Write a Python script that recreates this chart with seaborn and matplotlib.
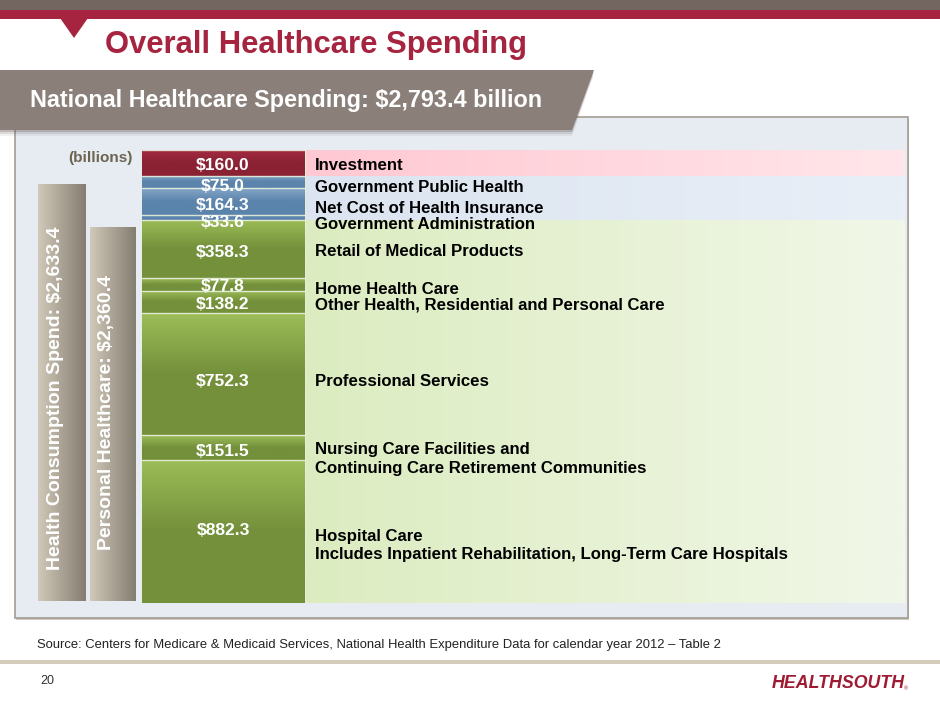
import numpy as np
import pandas as pd
import matplotlib
matplotlib.use("Agg")
import matplotlib.pyplot as plt
import matplotlib.transforms as mtransforms
from matplotlib.patches import Polygon, Rectangle
from matplotlib.colors import to_rgb
import seaborn as sns

# ---------------- data ----------------
segments = ["Hospital Care", "Nursing Care", "Professional Services",
            "Other Health", "Home Health Care", "Retail of Medical Products",
            "Government Administration", "Net Cost of Health Insurance",
            "Government Public Health", "Investment"]
values = [882.3, 151.5, 752.3, 138.2, 77.8, 358.3, 33.6, 164.3, 75.0, 160.0]
value_labels = ["$882.3", "$151.5", "$752.3", "$138.2", "$77.8", "$358.3",
                "$33.6", "$164.3", "$75.0", "$160.0"]
category_labels = [
    "Hospital Care\nIncludes Inpatient Rehabilitation, Long-Term Care Hospitals",
    "Nursing Care Facilities and\nContinuing Care Retirement Communities",
    "Professional Services",
    "Other Health, Residential and Personal Care",
    "Home Health Care",
    "Retail of Medical Products",
    "Government Administration",
    "Net Cost of Health Insurance",
    "Government Public Health",
    "Investment",
]
groups = ["personal"] * 6 + ["government"] * 3 + ["investment"]
national_total = 2793.4
consumption_total = 2633.4
personal_total = 2360.4
summary_names = ["Health Consumption Spend", "Personal Healthcare"]
summary_values = [consumption_total, personal_total]

# ---------------- styles ----------------
W, H = 940, 705
sns.set_theme(style="white")
plt.rcParams["font.family"] = ["Liberation Sans", "DejaVu Sans"]
plt.rcParams["text.parse_math"] = False

CRIMSON = "#A6243F"
seg_base = {"personal": "#74903B", "government": "#5B84AC", "investment": "#8A2234"}
seg_light = {"personal": "#9CBD58", "government": "#84A5C6", "investment": "#A32B41"}
band_left = {"personal": "#DCECC0", "government": "#DBE4F0", "investment": "#FFC8D2"}
band_right = {"personal": "#F1F7E8", "government": "#E9EFF7", "investment": "#FFE6EA"}

# value label / category label pixel nudges (positive = down)
val_dy = [-1, 4, 7, 2, 2, 3, 5, 4, 4, 3]
cat_dy = [14, 11, 7, 3, 5, 2, 7, 7, 5, 3]

fig = plt.figure(figsize=(W / 100, H / 100), dpi=100)
fig.patch.set_facecolor("white")

# background / decoration axes in pixel coordinates
bg = fig.add_axes([0, 0, 1, 1], zorder=0)
bg.set_xlim(0, W)
bg.set_ylim(H, 0)
bg.axis("off")

bg.add_patch(Rectangle((0, 0), W, 10, color="#736560", lw=0))
bg.add_patch(Rectangle((0, 10), W, 9, color=CRIMSON, lw=0))
bg.add_patch(Polygon([(60, 18), (88, 18), (74, 38)], closed=True, color=CRIMSON, lw=0))
bg.text(105, 45, "Overall Healthcare Spending", color=CRIMSON, fontsize=22.3,
        fontweight="bold", va="center", ha="left")

# panel
bg.add_patch(Rectangle((16, 119), 893, 501, color="#CFCAC3", lw=0))
bg.add_patch(Rectangle((15, 117), 893, 501, facecolor="#E7ECF3",
                       edgecolor="#A39C92", lw=1.2))

# banner with soft shadow underneath
for k, a in enumerate([0.25, 0.15, 0.08]):
    d = 2 + k * 2
    bg.add_patch(Polygon([(0, 70 + d), (594 - d * 0.1, 70 + d), (572, 130 + d), (0, 130 + d)],
                         closed=True, color="#5E5652", alpha=a, lw=0))
bg.add_patch(Polygon([(0, 70), (594, 70), (572, 130), (0, 130)], closed=True,
                     color="#8B7F7A", lw=0))
bg.text(30, 100, f"National Healthcare Spending: ${national_total:,.1f} billion",
        color="white", fontsize=16.8, fontweight="bold", va="center", ha="left")

bg.text(133, 158, "(billions)", color="#6B6450", fontsize=11, fontweight="bold",
        va="center", ha="right")

# footer
bg.text(37, 645, "Source: Centers for Medicare & Medicaid Services, National Health "
        "Expenditure Data for calendar year 2012 \u2013 Table 2",
        color="#222222", fontsize=9.4, va="center", ha="left")
bg.add_patch(Rectangle((0, 660), W, 4, color="#D4CCBB", lw=0))
bg.text(40, 681, "20", color="#333333", fontsize=9, va="center", ha="left")
bg.text(772, 683, "HEALTHSOUTH", color="#9E1B34", fontsize=12.8, fontweight="bold",
        style="italic", va="center", ha="left")
bg.text(904, 689, "\u00ae", color="#9E1B34", fontsize=4, va="center", ha="left")

# ---------------- main stacked bar ----------------
BAR_TOP, BAR_BOT = 150, 603
ax = fig.add_axes([0, (H - BAR_BOT) / H, 1, (BAR_BOT - BAR_TOP) / H], zorder=2)
ax.patch.set_alpha(0)

vals = np.array(values)
bottoms = np.concatenate([[0], np.cumsum(vals)[:-1]])
tops = bottoms + vals

def hgrad(c1, c2, n=64):
    a, b = np.array(to_rgb(c1)), np.array(to_rgb(c2))
    t = np.linspace(0, 1, n)[None, :, None]
    return a + (b - a) * t

# background bands per group
band_x0, band_x1 = 305, 905
for g in ["personal", "government", "investment"]:
    idx = [i for i, gg in enumerate(groups) if gg == g]
    y0 = bottoms[idx[0]]
    y1 = tops[idx[-1]] if g != "investment" else national_total
    ax.imshow(hgrad(band_left[g], band_right[g]), extent=(band_x0, band_x1, y0, y1),
              aspect="auto", origin="upper", zorder=0.5, interpolation="bilinear")

BAR_CX, BAR_W = 223, 163
for i, (seg, v, b) in enumerate(zip(segments, values, bottoms)):
    g = groups[i]
    df = pd.DataFrame({"x": [BAR_CX], "value": [v]})
    sns.barplot(data=df, x="x", y="value", native_scale=True, orient="x",
                width=BAR_W, bottom=b, color=seg_base[g], saturation=1,
                errorbar=None, edgecolor="#E4EDD3", linewidth=1.0, ax=ax, zorder=2)
    patch = ax.patches[-1]
    # vertical highlight gradient clipped to the bar
    n = 100
    t = np.linspace(0, 1, n)
    mix = np.clip(t / 0.5, 0, 1)[:, None, None]
    light = np.array(to_rgb(seg_light[g]))
    base = np.array(to_rgb(seg_base[g]))
    img = light + (base - light) * mix
    img = np.repeat(img, 2, axis=1)
    im = ax.imshow(img, extent=(BAR_CX - BAR_W / 2, BAR_CX + BAR_W / 2, b, b + v),
                   aspect="auto", origin="upper", zorder=2.1, interpolation="bilinear")
    im.set_clip_path(patch)
    # separators
    ax.plot([BAR_CX - BAR_W / 2, BAR_CX + BAR_W / 2], [b + v, b + v],
            color="#E9F0DC", lw=1.0, zorder=2.3, alpha=0.9)

for i in range(len(values)):
    cy = bottoms[i] + values[i] / 2
    tr_v = mtransforms.offset_copy(ax.transData, fig=fig, x=0, y=-val_dy[i], units="dots")
    ax.text(BAR_CX, cy, value_labels[i], transform=tr_v, color="white",
            fontsize=12.6, fontweight="bold", ha="center", va="center", zorder=3)
    tr_c = mtransforms.offset_copy(ax.transData, fig=fig, x=0, y=-cat_dy[i], units="dots")
    ax.text(315, cy, category_labels[i], transform=tr_c, color="black",
            fontsize=12.1, fontweight="bold", ha="left", va="center",
            linespacing=1.32, zorder=3)

ax.set_xlim(0, W)
ax.set_ylim(0, national_total)
ax.axis("off")

# ---------------- summary bars (gray) ----------------
G_BOT = 601
px_per_b = 0.1585
g_h = G_BOT - 140
ax2 = fig.add_axes([0, (H - G_BOT) / H, 1, g_h / H], zorder=1.5)
ax2.patch.set_alpha(0)
sum_cx = [62, 113]
sum_w = [48, 46]
for name, v, cx, w in zip(summary_names, summary_values, sum_cx, sum_w):
    df = pd.DataFrame({"x": [cx], "value": [v]})
    sns.barplot(data=df, x="x", y="value", native_scale=True, orient="x",
                width=w, color="#A9A292", saturation=1, errorbar=None,
                linewidth=0, ax=ax2, zorder=2)
    p = ax2.patches[-1]
    im = ax2.imshow(hgrad("#D0C9B9", "#847D71"), extent=(cx - w / 2, cx + w / 2, 0, v),
                    aspect="auto", origin="upper", zorder=2.1, interpolation="bilinear")
    im.set_clip_path(p)
ax2.set_xlim(0, W)
ax2.set_ylim(0, g_h / px_per_b)
ax2.axis("off")

# rotated labels on the summary bars (top layer)
txt_ax = fig.add_axes([0, 0, 1, 1], zorder=4)
txt_ax.set_xlim(0, W)
txt_ax.set_ylim(H, 0)
txt_ax.axis("off")
txt_pos = [(56, 398), (107, 413)]
for name, v, (tx, ty) in zip(summary_names, summary_values, txt_pos):
    txt_ax.text(tx, ty, f"{name}: ${v:,.1f}", rotation=90, color="white",
                fontsize=14, fontweight="bold", ha="center", va="center")

fig.savefig("out.png", dpi=100)
